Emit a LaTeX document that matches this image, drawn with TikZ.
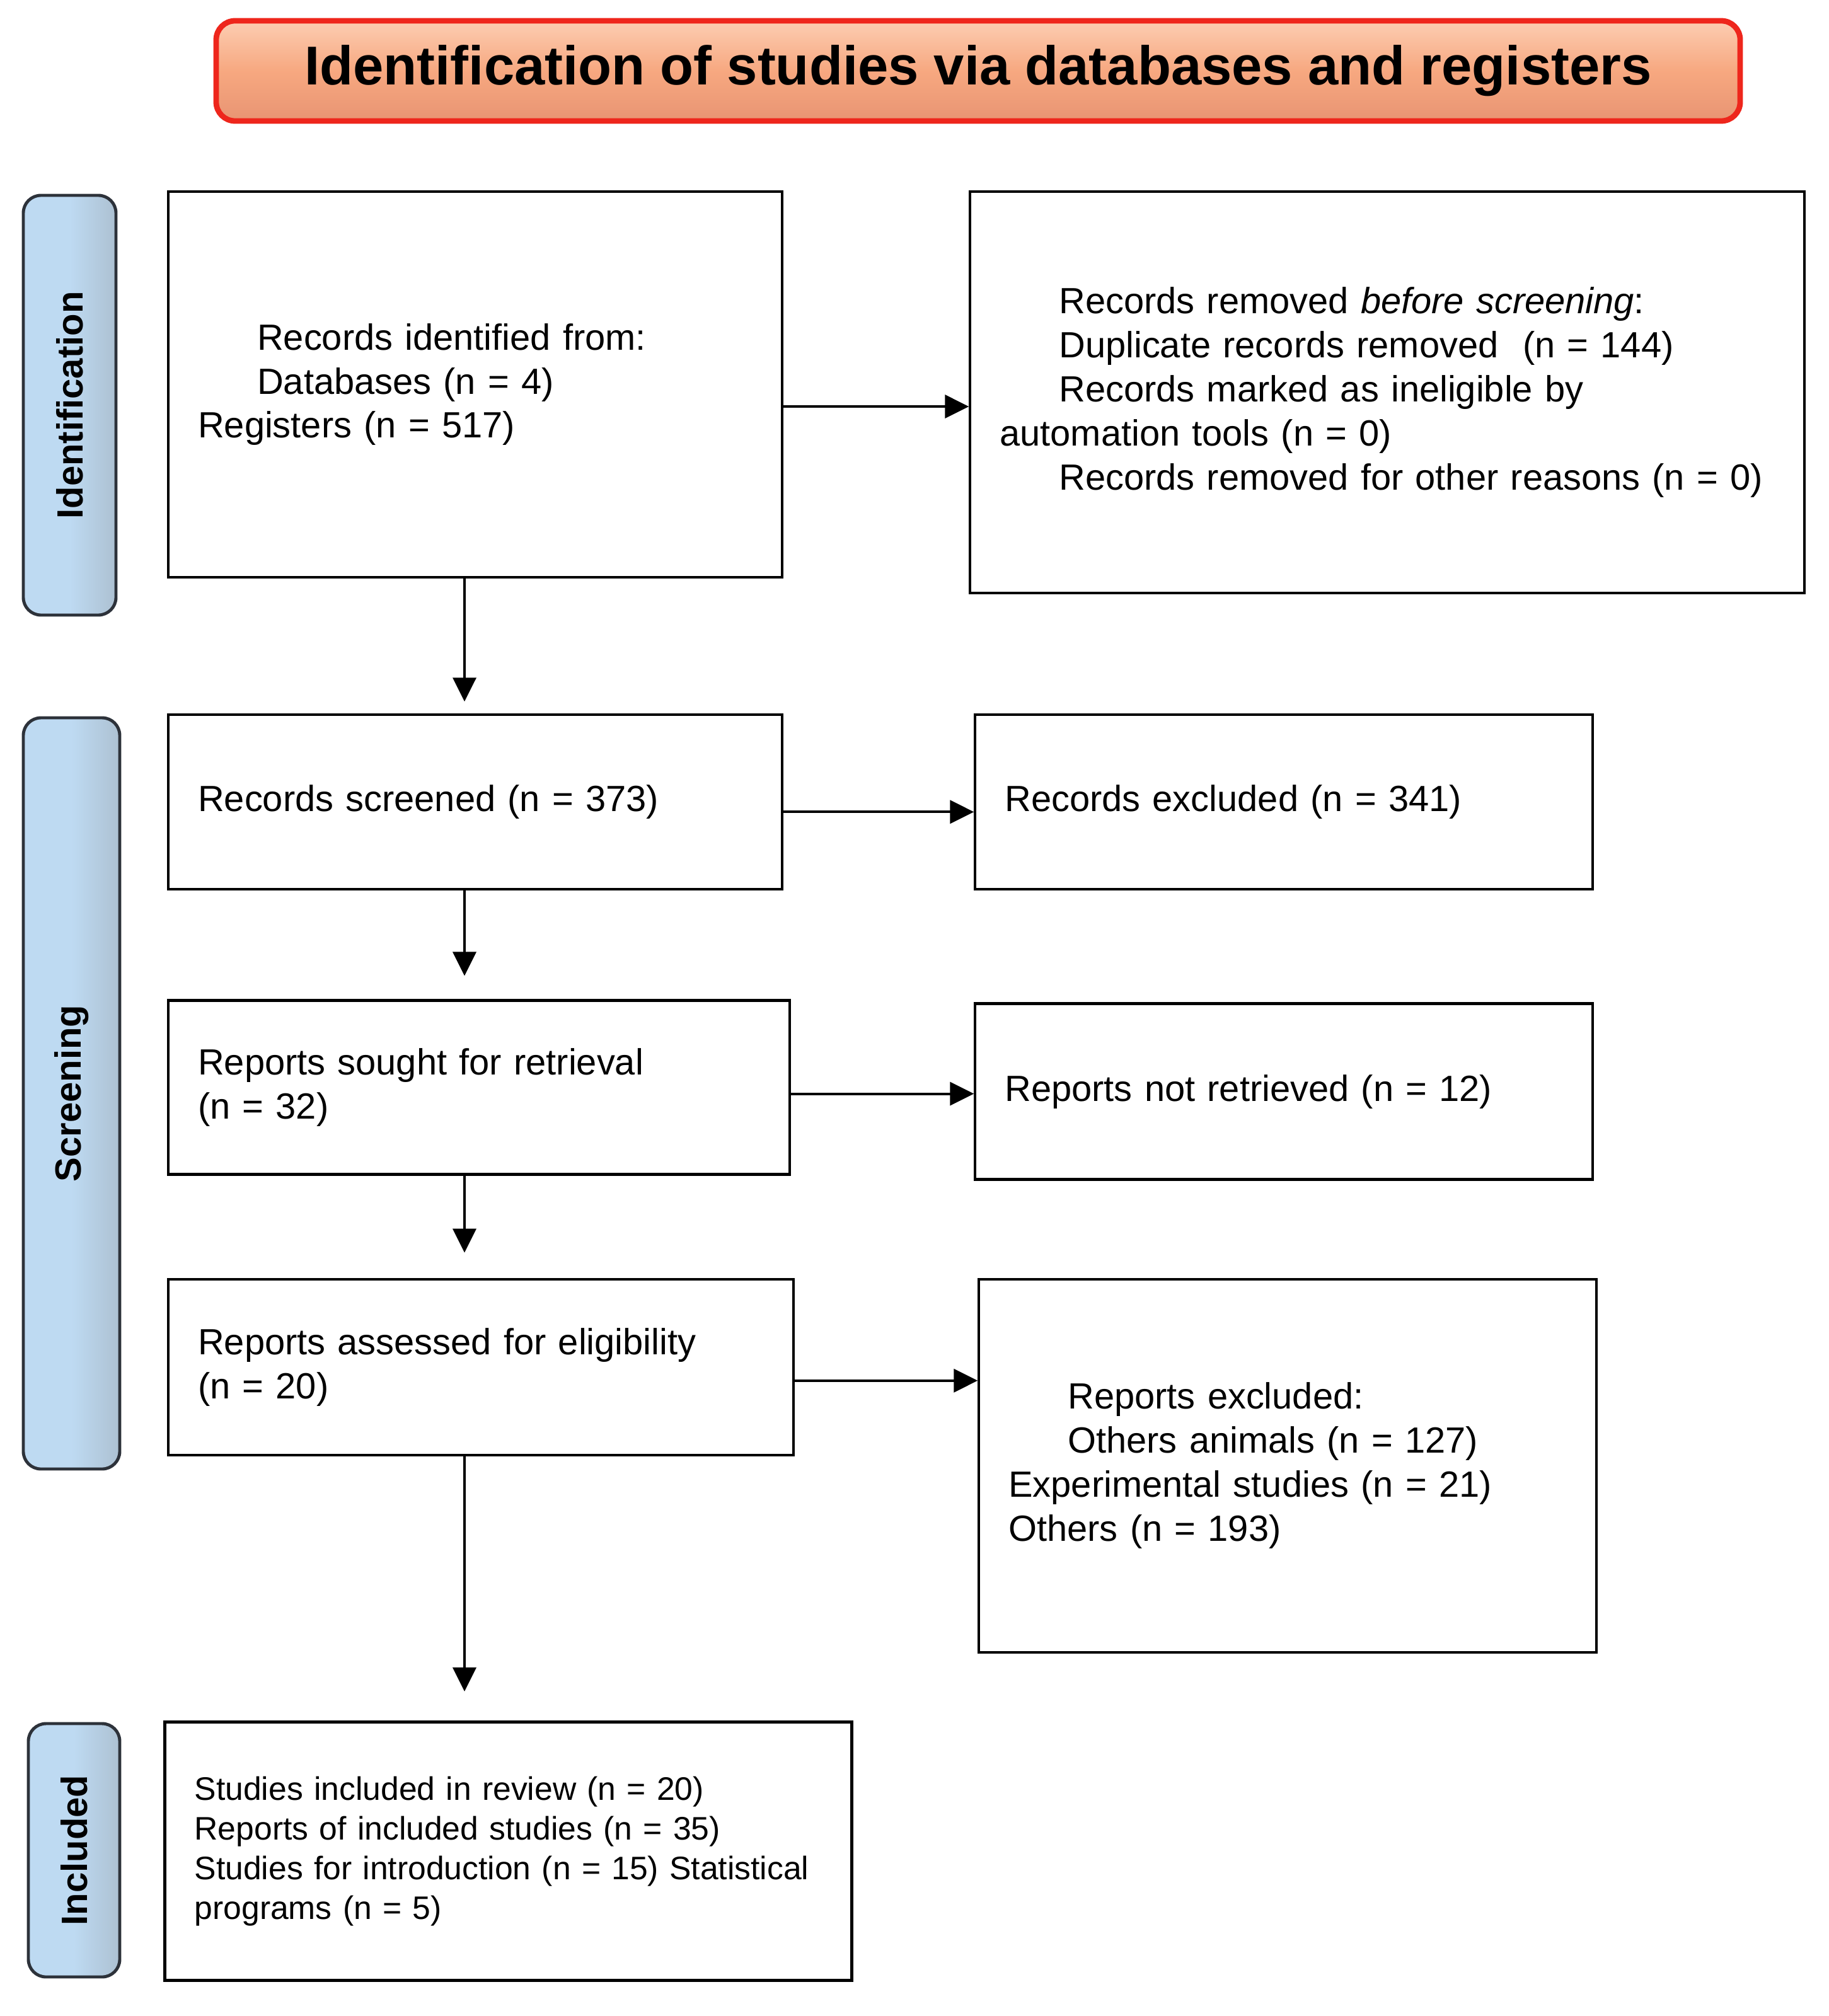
\documentclass[tikz,border=0pt]{standalone}
\usepackage{fontspec}
\setmainfont{Liberation Sans}
\usepackage{xcolor}
\usepackage{tikz}
\usetikzlibrary{arrows.meta,positioning,calc}

\definecolor{hdrfill}{RGB}{247,168,128}
\definecolor{hdrtop}{RGB}{252,205,178}
\definecolor{hdrbot}{RGB}{232,148,115}
\definecolor{hdrline}{RGB}{238,38,28}
\definecolor{barfill}{RGB}{190,218,242}
\definecolor{barline}{RGB}{45,50,58}

\newcommand{\boxfont}{\fontsize{16.45}{19.9}\selectfont}
\newcommand{\smallboxfont}{\fontsize{14.7}{17.9}\selectfont}
\newcommand{\barfont}{\fontsize{16.5}{19}\selectfont\bfseries}
\newcommand{\ind}{\hspace*{0.94cm}}

\begin{document}
\begin{tikzpicture}[
    node distance=2.2cm and 3cm,
    box/.style={draw, line width=1.2pt, align=left, inner xsep=0.47cm,
                inner ysep=0pt, font=\boxfont},
    phase/.style={draw=barline, line width=1.4pt, rounded corners=0.28cm,
                  left color=barfill, right color=barfill!72!gray,
                  middle color=barfill, rotate=90, font=\barfont},
    arr/.style={-{Triangle[length=10.8pt,width=10.5pt]}, line width=1.15pt}
]
    \useasboundingbox (0,0) rectangle (29.02,-31.99);

    % title bar
    \node[draw=hdrline, line width=2.5pt, rounded corners=0.3cm,
          top color=hdrtop, bottom color=hdrbot, middle color=hdrfill,
          minimum width=24.18cm, minimum height=1.59cm,
          font=\fontsize{24.7}{28}\selectfont\bfseries] (title) at (15.52,-1.125)
        {Identification of studies via databases and registers};

    % phases on the left
    \node[phase, minimum width=6.66cm, minimum height=1.47cm] (idbar) at (1.105,-6.43) {Identification};
    \node[phase, minimum width=11.92cm, minimum height=1.53cm] (scrbar) at (1.135,-17.35) {Screening};
    \node[phase, minimum width=4.02cm, minimum height=1.45cm] (incbar) at (1.175,-29.36) {Included};

    % main column
    \node[box, text width=8.80cm, minimum height=6.12cm, anchor=north west] (idbox) at (2.65,-3.02)
        {\ind Records identified from:\\
         \ind Databases (n = 4)\\
         Registers (n = 517)};
    \node[box, text width=8.80cm, minimum height=2.77cm,
          below=2.14cm of idbox.south west, anchor=north west] (scrbox)
        {Records screened (n = 373)};
    \node[box, text width=8.92cm, minimum height=2.76cm,
          below=1.72cm of scrbox.south west, anchor=north west] (soughtbox)
        {Reports sought for retrieval\\(n = 32)};
    \node[box, text width=8.98cm, minimum height=2.79cm,
          below=1.62cm of soughtbox.south west, anchor=north west] (elibox)
        {Reports assessed for eligibility\\(n = 20)};
    \node[box, text width=9.96cm, minimum height=4.10cm, line width=1.5pt,
          font=\smallboxfont, below=4.19cm of elibox.south west,
          anchor=north west, xshift=-0.06cm] (incbox)
        {Studies included in review (n = 20)\\
         Reports of included studies (n = 35)\\
         Studies for introduction (n = 15) Statistical\\
         programs (n = 5)};

    % side column
    \node[box, text width=12.30cm, minimum height=6.37cm,
          right=2.94cm of idbox.north east, anchor=north west] (rembox)
        {\ind Records removed \textit{before screening}:\\
         \ind Duplicate records removed~ (n = 144)\\
         \ind Records marked as ineligible by\\
         automation tools (n = 0)\\
         \ind Records removed for other reasons (n = 0)};
    \node[box, text width=8.86cm, minimum height=2.77cm,
          right=3.02cm of scrbox.north east, anchor=north west] (excbox)
        {Records excluded (n = 341)};
    \node[box, text width=8.86cm, minimum height=2.79cm,
          right=2.90cm of soughtbox.north east, anchor=north west, yshift=-0.05cm] (notbox)
        {Reports not retrieved (n = 12)};
    \node[box, text width=8.86cm, minimum height=5.92cm,
          right=2.90cm of elibox.north east, anchor=north west] (repexbox)
        {\ind Reports excluded:\\
         \ind Others animals (n = 127)\\
         Experimental studies (n = 21)\\
         Others (n = 193)};

    % arrows down
    \coordinate (col) at (7.37,0);
    \draw[arr, shorten >=1.9mm] (idbox.south -| col) -- (scrbox.north -| col);
    \draw[arr, shorten >=3.7mm] (scrbox.south -| col) -- (soughtbox.north -| col);
    \draw[arr, shorten >=4.0mm] (soughtbox.south -| col) -- (elibox.north -| col);
    \draw[arr, shorten >=4.6mm] (elibox.south -| col) -- (incbox.north -| col);

    % arrows right
    \coordinate (h1) at ([yshift=-3.5mm]idbox.east);
    \coordinate (h2) at ([yshift=-1.55mm]scrbox.east);
    \coordinate (h3) at ([yshift=-1.0mm]soughtbox.east);
    \coordinate (h4) at ([yshift=-2.15mm]elibox.east);
    \draw[arr] (h1) -- (h1 -| rembox.west);
    \draw[arr] (h2) -- (h2 -| excbox.west);
    \draw[arr] (h3) -- (h3 -| notbox.west);
    \draw[arr] (h4) -- (h4 -| repexbox.west);
\end{tikzpicture}
\end{document}
